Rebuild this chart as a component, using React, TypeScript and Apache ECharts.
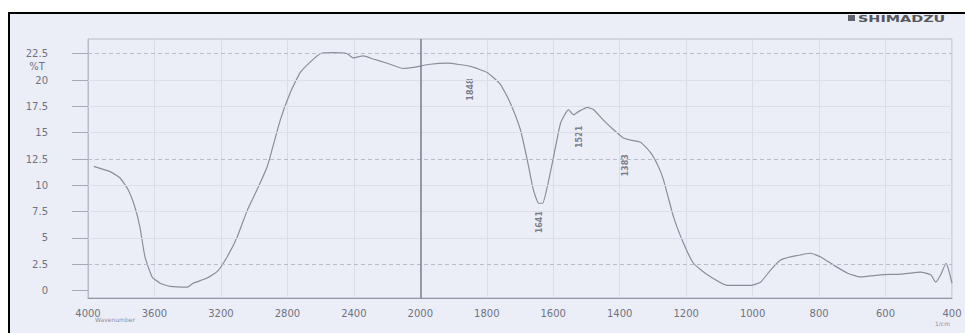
import React, { useEffect, useRef } from "react";
import * as echarts from "echarts";

// Wavenumber (1/cm) and %T
const wavenumbers = [
  3965, 3867, 3807, 3759, 3717, 3687, 3657, 3614, 3566, 3506, 3404, 3367, 3283, 3223,
  3163, 3102, 3042, 2982, 2922, 2904, 2843, 2783, 2723, 2663, 2602, 2524, 2440, 2404,
  2343, 2283, 2199, 2103, 2042, 1970, 1918, 1849, 1798, 1759, 1729, 1699, 1678, 1660,
  1644, 1632, 1618, 1599, 1578, 1554, 1539, 1524, 1498, 1479, 1449, 1419, 1389, 1367,
  1337, 1307, 1283, 1268, 1238, 1208, 1178, 1136, 1076, 1036, 1006, 976, 946, 916, 886,
  825, 795, 755, 714, 675, 614, 554, 494, 464, 449, 434, 418, 410, 400,
];
const transmittance = [
  11.8, 11.3, 10.7, 9.6, 7.9, 6.0, 3.2, 1.3, 0.7, 0.4, 0.33, 0.7, 1.2, 1.8,
  3.2, 5.1, 7.6, 9.6, 11.75, 12.7, 16.2, 18.8, 20.7, 21.7, 22.5, 22.6, 22.5, 22.1,
  22.3, 22.0, 21.6, 21.1, 21.2, 21.5, 21.6, 21.3, 20.7, 19.6, 17.8, 15.3, 12.4, 9.6,
  8.3, 8.3, 9.85, 12.7, 15.9, 17.2, 16.7, 17.0, 17.4, 17.2, 16.2, 15.3, 14.5, 14.3,
  14.1, 13.1, 11.75, 10.5, 7.0, 4.5, 2.6, 1.5, 0.5, 0.5, 0.5, 0.8, 1.95, 2.9, 3.2,
  3.55, 3.2, 2.4, 1.65, 1.3, 1.5, 1.57, 1.76, 1.5, 0.8, 1.5, 2.6, 1.95, 0.7,
];

const xTickWavenumbers = [4000, 3600, 3200, 2800, 2400, 2000, 1800, 1600, 1400, 1200, 1000, 800, 600, 400];
const yTickValues = [0, 2.5, 5, 7.5, 10, 12.5, 15, 17.5, 20, 22.5];
const yTickLabels = ["0", "2.5", "5", "7.5", "10", "12.5", "15", "17.5", "20", "22.5"];
const dashedGridValues = [2.5, 12.5, 22.5];

const peakWavenumbers = [1848, 1641, 1521, 1383];
const peakLabelLevels = [19.1, 6.5, 14.6, 11.9];
const peakLabels = ["1848", "1641", "1521", "1383"];

// Shimadzu chart: 400 1/cm per division above 2000, 200 1/cm per division below
const toPos = (w: number) => (w >= 2000 ? (4000 - w) / 400 : 5 + (2000 - w) / 200);

export default function App() {
  const ref = useRef<HTMLDivElement>(null);
  useEffect(() => {
    if (!ref.current) return;
    const chart = echarts.init(ref.current, undefined, { renderer: "svg" });
    const labelColor = "#6f7282";
    const font = "DejaVu Sans";
    const lineData = wavenumbers.map((w, i) => [toPos(w), transmittance[i]]);
    const peakData = peakWavenumbers.map((w, i) => ({
      value: [toPos(w), peakLabelLevels[i]],
      label: { formatter: peakLabels[i] },
    }));
    const gridLines = yTickValues
      .filter((v) => dashedGridValues.indexOf(v) < 0 && v !== 0)
      .map((v) => ({ yAxis: v, lineStyle: { color: "#dcdeea", width: 1, type: "solid" } }));
    const dashed = dashedGridValues.map((v) => ({
      yAxis: v,
      lineStyle: { color: "#b9bccb", width: 1, type: [4, 3] },
    }));

    chart.setOption({
      animation: false,
      backgroundColor: "#eceef7",
      grid: {
        left: 88,
        right: 13,
        top: 39,
        bottom: 35,
        show: true,
        borderColor: "#b7bac9",
        borderWidth: 1,
        backgroundColor: "transparent",
      },
      xAxis: {
        type: "value",
        min: 0,
        max: 13,
        interval: 1,
        axisLine: { show: true, onZero: false, lineStyle: { color: "#9295a3", width: 1 } },
        axisTick: { show: false },
        axisLabel: {
          color: labelColor,
          fontSize: 10,
          fontFamily: font,
          margin: 10,
          formatter: (p: number) => String(xTickWavenumbers[Math.round(p)] ?? ""),
        },
        splitLine: { show: true, lineStyle: { color: "#d9dce9", width: 1 } },
      },
      yAxis: {
        type: "value",
        min: -0.7,
        max: 23.9,
        axisLine: { show: true, lineStyle: { color: "#b7bac9", width: 1 } },
        axisTick: {
          show: true,
          length: 16,
          customValues: yTickValues,
          lineStyle: { color: "#a6a9b8", width: 1 },
        },
        axisLabel: {
          customValues: yTickValues,
          color: labelColor,
          fontSize: 10,
          fontFamily: font,
          margin: 40,
          formatter: (v: number) => {
            const i = yTickValues.findIndex((t) => Math.abs(t - v) < 1e-6);
            return i >= 0 ? yTickLabels[i] : "";
          },
        },
        splitLine: { show: false },
      },
      series: [
        {
          type: "line",
          data: lineData,
          showSymbol: false,
          smooth: 0.15,
          lineStyle: { color: "#8a8d9b", width: 1.2 },
          z: 3,
          markLine: {
            silent: true,
            symbol: "none",
            label: { show: false },
            data: [
              ...gridLines,
              ...dashed,
              { xAxis: toPos(2000), lineStyle: { color: "#7b7e8c", width: 1.5, type: "solid" } },
            ],
          },
        },
        {
          type: "scatter",
          data: peakData,
          symbolSize: 0,
          silent: true,
          z: 4,
          label: {
            show: true,
            position: "inside",
            rotate: 90,
            color: "#5d606e",
            fontSize: 8,
            fontFamily: font,
            fontWeight: "bold",
          },
        },
      ],
      graphic: [
        { type: "rect", z: 100, shape: { x: 0, y: 0, width: 965, height: 12 }, style: { fill: "#ffffff" } },
        { type: "rect", z: 100, shape: { x: 0, y: 0, width: 8, height: 333 }, style: { fill: "#ffffff" } },
        { type: "rect", z: 101, shape: { x: 8, y: 12, width: 957, height: 2 }, style: { fill: "#000000" } },
        { type: "rect", z: 101, shape: { x: 8, y: 12, width: 2, height: 321 }, style: { fill: "#000000" } },
        {
          type: "text",
          z: 102,
          x: 37,
          y: 61,
          style: { text: "%T", fill: labelColor, fontSize: 10, fontFamily: font, textAlign: "center" },
        },
        { type: "rect", z: 102, shape: { x: 848, y: 15, width: 7, height: 6 }, style: { fill: "#5f616b" } },
        {
          type: "text",
          z: 102,
          x: 858,
          y: 14,
          scaleX: 1.6,
          style: {
            text: "SHIMADZU",
            fill: "#55575f",
            fontSize: 9,
            fontWeight: "bold",
            fontFamily: font,
          },
        },
        {
          type: "text",
          z: 102,
          x: 95,
          y: 316,
          style: { text: "Wavenumber", fill: "#8a8d9b", fontSize: 6, fontFamily: font },
        },
        {
          type: "text",
          z: 102,
          x: 935,
          y: 320,
          style: { text: "1/cm", fill: "#8a8d9b", fontSize: 6, fontFamily: font },
        },
      ],
    });
    return () => chart.dispose();
  }, []);
  return (
    <div
      ref={ref}
      style={{ position: "absolute", left: 0, top: 0, width: 965, height: 333 }}
    />
  );
}
